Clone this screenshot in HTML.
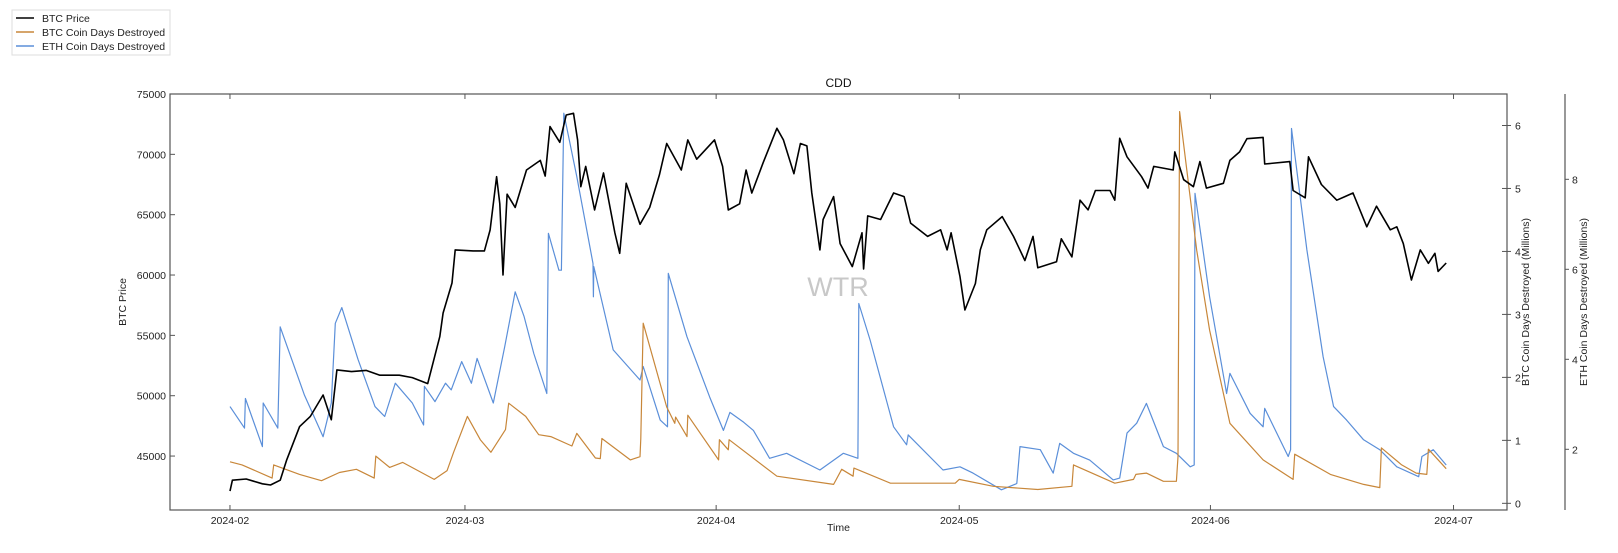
<!DOCTYPE html>
<html><head><meta charset="utf-8"><style>
html,body{margin:0;padding:0;background:#fff;}
svg{display:block;font-family:"Liberation Sans","DejaVu Sans",sans-serif;}
</style></head><body>
<svg id="chart" width="1618" height="553" viewBox="0 0 1618 553" xmlns="http://www.w3.org/2000/svg"></svg>
<script>
// ---- data (days since 2024-02-01) ----
const xTickLabels = ["2024-02","2024-03","2024-04","2024-05","2024-06","2024-07"];
const xTickDays = [0,29,60,90,121,151];
const priceTicks = [45000,50000,55000,60000,65000,70000,75000];
const btcCddTicks = [0,1,2,3,4,5,6];
const ethCddTicks = [2,4,6,8];

const priceDays = [0,0.3,2,4,5,6.2,7,8.6,9.9,11.5,12.5,13.2,15,16.8,18.5,20.9,22.5,24.4,25.9,26.3,27.4,27.8,30,31.4,32.1,32.9,33.3,33.7,34.2,35.2,36.6,38.3,38.9,39.5,40.7,41.5,42.4,42.9,43.3,43.9,45.0,46.1,47.5,48.1,48.9,50.6,51.8,53.0,53.9,55.7,56.5,57.6,59.8,60.8,61.5,62.9,63.7,64.4,65.8,67.5,68.3,69.6,70.4,71.2,71.8,72.8,73.2,74.5,75.3,76.8,78.0,78.2,78.7,80.3,81.9,83.2,84.0,86.1,87.7,88.5,89,90.1,90.7,92.0,92.6,93.4,95.3,96.7,98.1,99.1,99.7,102,102.6,103.9,104.9,105.9,106.8,108.6,109.2,109.8,110.7,112.5,113.3,114,116.4,116.6,117.7,118.9,119.7,120.5,122.6,123.4,124.6,125.5,127.5,127.7,130.8,131.2,132.7,133.1,134.7,136.6,137.6,138.6,140.3,141.5,143.2,144,144.8,145.8,146.9,147.9,148.7,149.1,150.1];
const priceValues = [42100,43000,43100,42700,42600,43000,44680,47440,48270,50060,48000,52140,52000,52100,51700,51700,51500,51000,54900,56850,59340,62080,62000,62000,63730,68150,65900,60000,66700,65600,68700,69500,68200,72300,71000,73260,73400,71190,67320,69000,65390,68450,63480,61800,67600,64200,65600,68300,70900,68700,71200,69600,71200,69000,65390,65900,68700,66800,69300,72160,71200,68400,70900,70700,66800,62080,64600,66500,62600,60700,63500,60500,64900,64600,66800,66500,64300,63200,63750,62080,63500,59860,57100,59300,62080,63750,64840,63200,61200,63200,60600,61100,63000,61500,66200,65400,67000,67000,66200,71330,69800,68150,67200,69000,68700,70200,67900,67320,69400,67200,67600,69500,70200,71300,71400,69200,69400,67000,66400,69800,67500,66200,66500,66800,64000,65700,63750,64000,62600,59590,62080,60970,61800,60300,61000,60690];

const btcCddDays = [0,1.5,5.2,5.4,8.6,11.3,13.5,15.6,17.8,18,19.7,21.3,25.2,26.8,27.6,29.3,30.9,32.2,34,34.4,36.5,38.1,39.6,42.2,42.8,45.1,45.7,45.9,49.4,50.6,50.7,51,53.9,54.9,55.0,56.4,56.5,60.3,60.4,61.5,61.6,67.5,74.5,75.5,76.9,77.0,81.5,89.5,90,94.2,99.7,103.9,104.1,109.2,111.5,111.8,113.1,115.2,116.8,117.0,117.2,119.3,120.9,123.4,127.5,131.2,131.4,135.8,139.9,141.9,142.1,144.6,146.4,147.7,147.9,150.1];
const btcCddValues = [0.66,0.61,0.40,0.61,0.46,0.36,0.49,0.54,0.40,0.75,0.57,0.65,0.38,0.52,0.81,1.38,1.01,0.81,1.17,1.59,1.38,1.09,1.06,0.91,1.11,0.72,0.71,1.03,0.69,0.74,1.03,2.86,1.53,1.27,1.37,1.06,1.40,0.69,1.01,0.85,1.01,0.43,0.30,0.54,0.43,0.56,0.32,0.32,0.38,0.27,0.22,0.27,0.61,0.32,0.38,0.46,0.48,0.35,0.35,0.74,6.22,4.02,2.75,1.27,0.69,0.38,0.78,0.46,0.30,0.25,0.88,0.61,0.48,0.46,0.86,0.55];

const ethCddDays = [0,1.8,1.9,4,4.1,5.9,6.2,9.2,11.5,12.5,13,13.8,15.8,17.9,19.1,20.4,22.5,23.9,24.0,25.3,26.6,27.3,28.6,29.8,30.5,32.5,33.9,35.2,36.3,37.5,39.1,39.3,40.6,40.9,41.2,42.8,44.8,44.85,44.9,47.3,50.6,51.0,53.1,54,54.1,56.4,59.2,60.9,61.7,63.4,64.6,66.6,68.7,72.8,75.7,77.5,77.6,79,81.9,83.5,83.7,88,90.1,91.7,95.2,97.1,97.5,100,101.6,102.4,104.1,106.1,109,109.8,110.7,111.9,113.1,115.2,116.8,118.5,119.0,119.1,120.9,123,123.4,125.9,127.5,127.7,130.6,130.9,131.0,132.9,134.9,136.2,137.8,139.9,141.9,144,146.7,147.1,148.5,150.1];
const ethCddValues = [2.95,2.47,3.13,2.06,3.03,2.47,4.72,3.20,2.28,3.03,4.80,5.15,4.0,2.95,2.73,3.47,3.03,2.54,3.40,3.06,3.47,3.32,3.95,3.47,4.02,3.03,4.28,5.50,4.95,4.13,3.24,6.80,5.98,5.98,9.47,8.06,6.13,5.39,6.06,4.21,3.54,3.84,2.65,2.50,5.91,4.50,3.16,2.42,2.82,2.60,2.42,1.80,1.91,1.54,1.91,1.80,5.24,4.43,2.50,2.10,2.32,1.54,1.61,1.47,1.10,1.24,2.06,1.99,1.47,2.13,1.91,1.76,1.32,1.36,2.36,2.58,3.02,2.06,1.91,1.61,1.65,7.69,5.39,3.24,3.69,2.80,2.50,2.91,1.84,1.99,9.13,6.43,4.06,2.95,2.65,2.21,1.99,1.61,1.39,1.84,1.99,1.65];

// ---- layout & scales ----
const L=170,R=1507,T=94,B=510;
const xDom=[-7.4,157.6];
function xS(d){return L+(d-xDom[0])/(xDom[1]-xDom[0])*(R-L);}
function yPrice(v){return B-(v-40530)/(75000-40530)*(B-T);}
function yBtc(v){return B-(v+0.106)/(6.5+0.106)*(B-T);}
function yEth(v){return B-(v-0.651)/(9.896-0.651)*(B-T);}

const NS="http://www.w3.org/2000/svg";
const svg=document.getElementById('chart');
function mk(tag,attrs,parent,text){const e=document.createElementNS(NS,tag);for(const k in attrs)e.setAttribute(k,attrs[k]);if(text!==undefined)e.textContent=text;(parent||svg).appendChild(e);return e;}

// legend
const lg=mk('g',{});


mk('rect',{x:12,y:10,width:158,height:45,fill:'#fff',stroke:'#ddd'},lg);
const legItems=[["BTC Price","#000"],["BTC Coin Days Destroyed","#c8873a"],["ETH Coin Days Destroyed","#5b8fd9"]];
legItems.forEach((it,i)=>{
  const g=mk('g',{},lg);
  
  
  const y=18+i*14;
  mk('line',{x1:16,x2:34,y1:y,y2:y,stroke:it[1],'stroke-width':1.5},g);
  mk('text',{x:42,y:y+4,'font-size':10.5,fill:'#222'},g,it[0]);
});

// title & watermark
const tt=mk('text',{x:(L+R)/2,y:87,'text-anchor':'middle','font-size':12,fill:'#111'},svg,"CDD");


const wm=mk('text',{x:838,y:296,'text-anchor':'middle','font-size':27,fill:'#c8c8c8'},svg,"WTR");



// series
function line(days,vals,ys,color,w,name){
  const p=days.map((d,i)=>(i?'L':'M')+xS(d).toFixed(1)+' '+ys(vals[i]).toFixed(1)).join(' ');
  const e=mk('path',{d:p,fill:'none',stroke:color,'stroke-width':w,'stroke-linejoin':'round'});
  
  
}
line(ethCddDays,ethCddValues,yEth,'#5b8fd9',1.2,'eth-cdd-line');
line(btcCddDays,btcCddValues,yBtc,'#c8873a',1.2,'btc-cdd-line');
line(priceDays,priceValues,yPrice,'#000',1.6,'btc-price-line');

// frame
const fr=mk('rect',{x:L,y:T,width:R-L,height:B-T,fill:'none',stroke:'#555','stroke-width':1.2});



// x ticks
xTickDays.forEach((d,i)=>{
  const x=xS(d);
  mk('line',{x1:x,x2:x,y1:B,y2:B-5,stroke:'#555'});
  mk('line',{x1:x,x2:x,y1:T,y2:T+5,stroke:'#555'});
  const t=mk('text',{x:x,y:B+14,'text-anchor':'middle','font-size':10.5,fill:'#222'},svg,xTickLabels[i]);
  
  
});
const xt=mk('text',{x:(L+R)/2,y:531,'text-anchor':'middle','font-size':10.5,fill:'#222'},svg,"Time");



// left ticks
priceTicks.forEach(v=>{
  const y=yPrice(v);
  mk('line',{x1:L,x2:L+5,y1:y,y2:y,stroke:'#555'});
  const t=mk('text',{x:L-4,y:y+4,'text-anchor':'end','font-size':10.5,fill:'#222'},svg,String(v));
  
  
});
const yl=mk('text',{x:0,y:0,'text-anchor':'middle','font-size':10.5,fill:'#222',transform:'translate(126,'+((T+B)/2)+') rotate(-90)'},svg,"BTC Price");



// right BTC ticks
btcCddTicks.forEach(v=>{
  const y=yBtc(v);
  mk('line',{x1:R-5,x2:R,y1:y,y2:y,stroke:'#555'});
  mk('line',{x1:R,x2:R+4,y1:y,y2:y,stroke:'#555'});
  const t=mk('text',{x:R+8,y:y+4,'font-size':10.5,fill:'#222'},svg,String(v));
  
  
});
const r1=mk('text',{x:0,y:0,'text-anchor':'middle','font-size':10.5,fill:'#222',transform:'translate(1529,'+((T+B)/2)+') rotate(-90)'},svg,"BTC Coin Days Destroyed (Millions)");



// ETH axis
const ea=mk('line',{x1:1565,x2:1565,y1:T,y2:B,stroke:'#555','stroke-width':1.2});


ethCddTicks.forEach(v=>{
  const y=yEth(v);
  mk('line',{x1:1565,x2:1569,y1:y,y2:y,stroke:'#555'});
  const t=mk('text',{x:1572,y:y+4,'font-size':10.5,fill:'#222'},svg,String(v));
  
  
});
const r2=mk('text',{x:0,y:0,'text-anchor':'middle','font-size':10.5,fill:'#222',transform:'translate(1587,'+((T+B)/2)+') rotate(-90)'},svg,"ETH Coin Days Destroyed (Millions)");


</script>
</body></html>
